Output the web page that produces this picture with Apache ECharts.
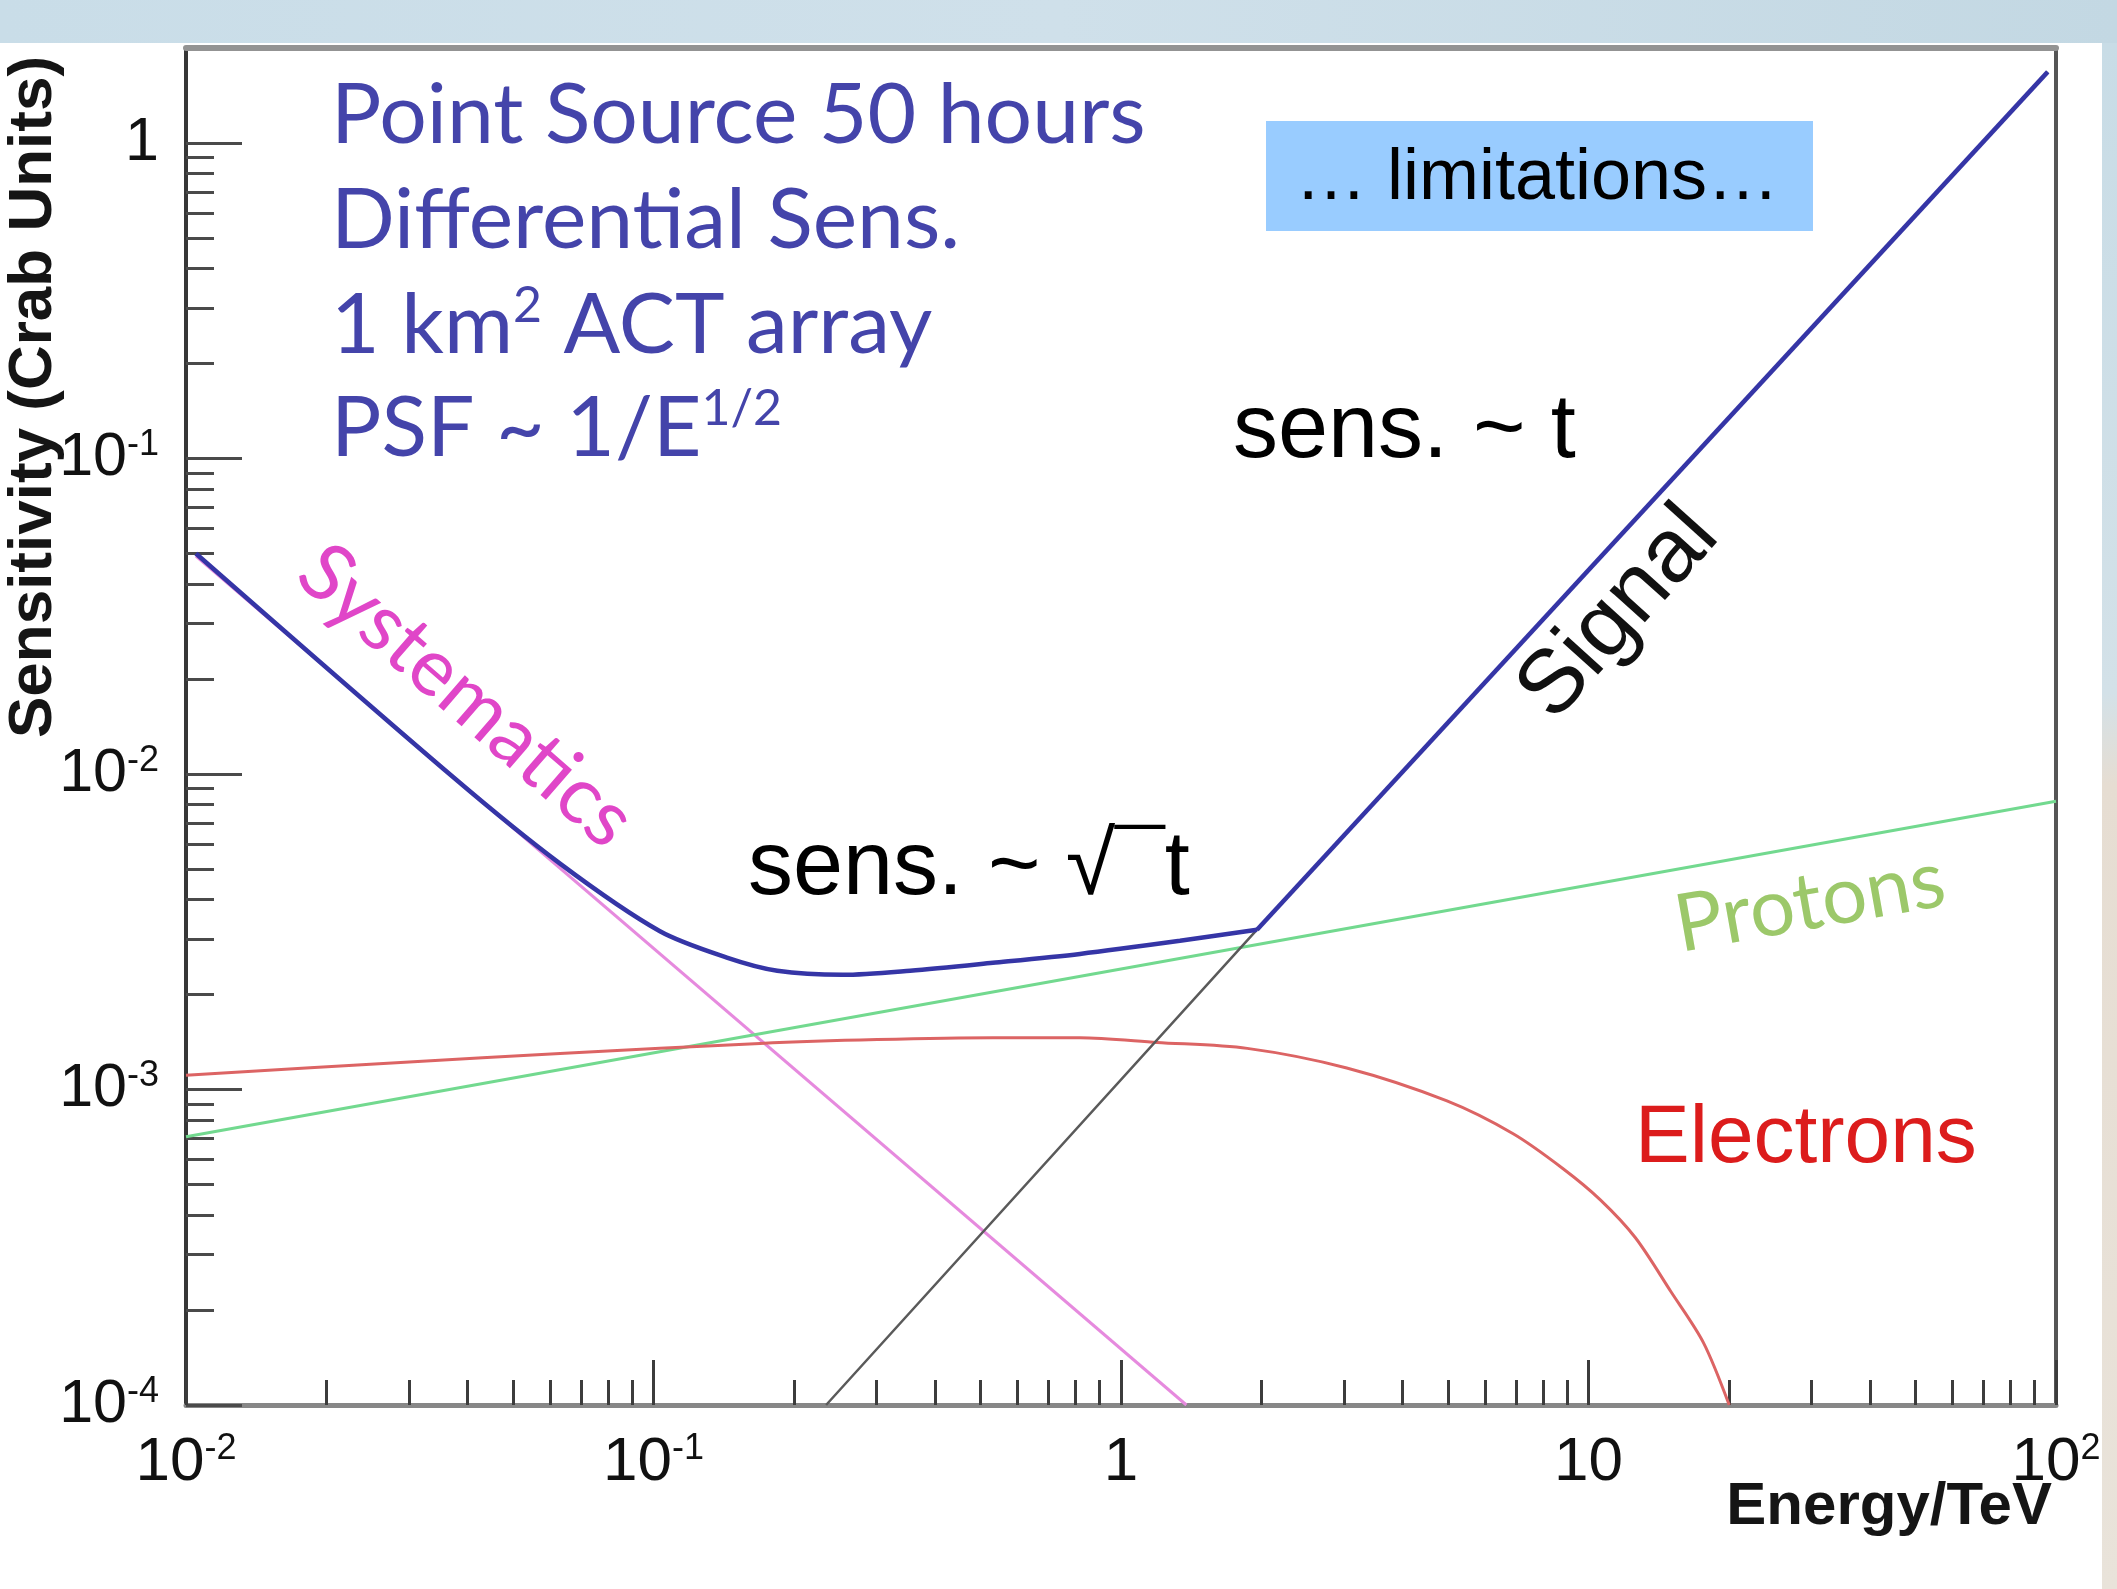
<!DOCTYPE html>
<html>
<head>
<meta charset="utf-8">
<title>Differential sensitivity of a 1 km² ACT array</title>
<script src="https://cdn.jsdelivr.net/npm/echarts@6/dist/echarts.min.js"></script>
<style>
  html, body { margin: 0; padding: 0; background: #ffffff; }
  #chart { width: 2117px; height: 1589px; }
</style>
</head>
<body>
<div id="chart"></div>
<script>
// ---- Axis ticks (energy in TeV, sensitivity in Crab units) ----
const energyMajorTicks = [0.01, 0.1, 1, 10, 100];
const energyMinorTicks = [
  0.02, 0.03, 0.04, 0.05, 0.06, 0.07, 0.08, 0.09,
  0.2, 0.3, 0.4, 0.5, 0.6, 0.7, 0.8, 0.9,
  2, 3, 4, 5, 6, 7, 8, 9,
  20, 30, 40, 50, 60, 70, 80, 90
];
const sensMajorTicks = [0.0001, 0.001, 0.01, 0.1, 1];
const sensMinorTicks = [
  0.0002, 0.0003, 0.0004, 0.0005, 0.0006, 0.0007, 0.0008, 0.0009,
  0.002, 0.003, 0.004, 0.005, 0.006, 0.007, 0.008, 0.009,
  0.02, 0.03, 0.04, 0.05, 0.06, 0.07, 0.08, 0.09,
  0.2, 0.3, 0.4, 0.5, 0.6, 0.7, 0.8, 0.9
];

// ---- Curves ----
// Total differential sensitivity, background/systematics-limited part
const totalEnergy = [0.0105, 0.0372, 0.0631, 0.103, 0.1435, 0.184, 0.254, 0.354, 0.532, 0.817, 1.337, 1.954];
const totalSens   = [0.050, 0.0098, 0.0052, 0.00318, 0.00262, 0.00238, 0.00231, 0.00238, 0.00252, 0.00269, 0.00296, 0.00321];
// Total sensitivity, signal-limited part
const totalHighEnergy = [1.954, 96];
const totalHighSens   = [0.00321, 1.68];

// Signal-limited sensitivity
const signalEnergy = [0.234, 1.954, 96];
const signalSens   = [0.0001, 0.00321, 1.68];

// Systematics
const systEnergy = [0.0105, 1.38];
const systSens   = [0.049, 0.0001];

// Proton background
const protonEnergy = [0.01, 100];
const protonSens   = [0.000708, 0.0082];

// Electron background
const electronEnergy = [0.01, 0.0294, 0.0631, 0.169, 0.301, 0.532, 0.817, 1.194, 1.862, 3.04, 4.98, 6.90, 8.81, 10.6, 12.6, 15.0, 17.6, 20.0];
const electronSens   = [0.00111, 0.00122, 0.00130, 0.00140, 0.00144, 0.00146, 0.00146, 0.00141, 0.00135, 0.00117, 0.00092, 0.000724, 0.000562, 0.000447, 0.000339, 0.000229, 0.000158, 0.0001];

const pair = (xs, ys) => xs.map((x, i) => [x, ys[i]]);

function powerLabel(v) {
  const p = Math.round(Math.log10(v));
  if (p === 0) return '{b|1}';
  if (p === 1) return '{b|10}';
  return '{b|10}{s|' + p + '}';
}

const NARROW = "'Liberation Sans Narrow', 'Arial Narrow', 'Liberation Sans', Arial, sans-serif";
const SANS = "'Liberation Sans', Arial, Helvetica, sans-serif";
const NOTE = "Lato, 'Noto Sans', sans-serif";

const xRich = {
  b: { fontFamily: NARROW, fontSize: 62, lineHeight: 64, color: '#111111' },
  s: { fontFamily: NARROW, fontSize: 36, lineHeight: 32, color: '#111111', verticalAlign: 'top' }
};
const yRich = {
  b: { fontFamily: SANS, fontSize: 61, lineHeight: 62, color: '#111111' },
  s: { fontFamily: SANS, fontSize: 36, lineHeight: 32, color: '#111111', verticalAlign: 'top' }
};

const hidden = { show: false };

function lineSeries(name, data, color, width, smooth, z) {
  return {
    name, type: 'line', data, xAxisIndex: 0, yAxisIndex: 0,
    symbol: 'none', smooth, z, clip: true, animation: false,
    lineStyle: { color, width }
  };
}

const chart = echarts.init(document.getElementById('chart'), null, { renderer: 'canvas' });

chart.setOption({
  animation: false,
  backgroundColor: '#ffffff',
  grid: { left: 186, right: 61, top: 48, bottom: 184, show: false },
  xAxis: [
    {
      type: 'log', logBase: 10, min: 0.01, max: 100, position: 'bottom',
      axisLine: { show: true, onZero: false, lineStyle: { color: '#878787', width: 5 } },
      axisTick: { show: true, inside: true, length: 45, customValues: energyMajorTicks,
                  lineStyle: { color: '#3c3c3c', width: 3 } },
      axisLabel: { show: true, customValues: energyMajorTicks, margin: 26,
                   formatter: powerLabel, rich: xRich },
      splitLine: hidden, minorTick: hidden, minorSplitLine: hidden
    },
    {
      type: 'log', logBase: 10, min: 0.01, max: 100, position: 'bottom',
      axisLine: hidden,
      axisTick: { show: true, inside: true, length: 25, customValues: energyMinorTicks,
                  lineStyle: { color: '#3c3c3c', width: 3 } },
      axisLabel: hidden, splitLine: hidden
    },
    {
      type: 'log', logBase: 10, min: 0.01, max: 100, position: 'top',
      axisLine: { show: true, onZero: false, lineStyle: { color: '#939393', width: 6 } },
      axisTick: hidden, axisLabel: hidden, splitLine: hidden
    }
  ],
  yAxis: [
    {
      type: 'log', logBase: 10, min: 0.0001, max: 2, position: 'left',
      axisLine: { show: true, onZero: false, lineStyle: { color: '#363636', width: 4 } },
      axisTick: { show: true, inside: true, length: 56, customValues: sensMajorTicks,
                  lineStyle: { color: '#4a4a4a', width: 3 } },
      axisLabel: { show: true, customValues: sensMajorTicks, margin: 27,
                   formatter: powerLabel, rich: yRich },
      splitLine: hidden, minorTick: hidden, minorSplitLine: hidden
    },
    {
      type: 'log', logBase: 10, min: 0.0001, max: 2, position: 'left',
      axisLine: hidden,
      axisTick: { show: true, inside: true, length: 28, customValues: sensMinorTicks,
                  lineStyle: { color: '#4a4a4a', width: 3 } },
      axisLabel: hidden, splitLine: hidden
    },
    {
      type: 'log', logBase: 10, min: 0.0001, max: 2, position: 'right',
      axisLine: { show: true, onZero: false, lineStyle: { color: '#555555', width: 4 } },
      axisTick: hidden, axisLabel: hidden, splitLine: hidden
    }
  ],
  series: [
    lineSeries('Systematics', pair(systEnergy, systSens), '#e68ade', 3, false, 2),
    lineSeries('Protons', pair(protonEnergy, protonSens), '#72d98f', 3, false, 3),
    lineSeries('Electrons', pair(electronEnergy, electronSens), '#dc6464', 3, 0.3, 4),
    lineSeries('Signal', pair(signalEnergy, signalSens), '#5a5a5a', 2.5, false, 5),
    lineSeries('Total', pair(totalEnergy, totalSens), '#3535a6', 4.5, 0.3, 6),
    lineSeries('Total (signal limited)', pair(totalHighEnergy, totalHighSens), '#3535a6', 4.5, false, 6)
  ],
  graphic: [
    // slide backdrop strips
    { type: 'rect', z: -5, silent: true, shape: { x: 0, y: 0, width: 2117, height: 43 },
      style: { fill: new echarts.graphic.LinearGradient(0, 0, 1, 0, [
        { offset: 0, color: '#c9dde8' }, { offset: 0.5, color: '#cfe0ea' }, { offset: 1, color: '#c3d8e3' }]) } },
    { type: 'rect', z: -5, silent: true, shape: { x: 2102, y: 43, width: 15, height: 1546 },
      style: { fill: new echarts.graphic.LinearGradient(0, 0, 0, 1, [
        { offset: 0, color: '#c8dce6' }, { offset: 0.42, color: '#d3e1e8' },
        { offset: 0.48, color: '#e6ddd2' }, { offset: 1, color: '#e9e3da' }]) } },

    // axis titles
    { type: 'text', z: 10, x: 34, y: 397, rotation: Math.PI / 2,
      style: { text: 'Sensitivity (Crab Units)', font: 'bold 62px ' + SANS, fill: '#151515',
               align: 'center', verticalAlign: 'middle' } },
    { type: 'text', z: 10, x: 2052, y: 1507,
      style: { text: 'Energy/TeV', font: 'bold 60px ' + SANS, fill: '#151515',
               align: 'right', verticalAlign: 'middle' } },

    // description block
    { type: 'text', z: 10, x: 331, y: 116,
      style: { text: 'Point Source 50 hours', font: '84px ' + NOTE, fill: '#4444aa',
               align: 'left', verticalAlign: 'middle' } },
    { type: 'text', z: 10, x: 331, y: 221,
      style: { text: 'Differential Sens.', font: '84px ' + NOTE, fill: '#4444aa',
               align: 'left', verticalAlign: 'middle' } },
    { type: 'text', z: 10, x: 331, y: 326,
      style: { text: '1 km{s|2} ACT array', font: '84px ' + NOTE, fill: '#4444aa', lineHeight: 90,
               align: 'left', verticalAlign: 'middle',
               rich: { s: { font: '50px ' + NOTE, fill: '#4444aa', lineHeight: 50, verticalAlign: 'top' } } } },
    { type: 'text', z: 10, x: 331, y: 429,
      style: { text: 'PSF ~ 1/E{s|1/2}', font: '84px ' + NOTE, fill: '#4444aa', lineHeight: 90,
               align: 'left', verticalAlign: 'middle',
               rich: { s: { font: '50px ' + NOTE, fill: '#4444aa', lineHeight: 50, verticalAlign: 'top' } } } },

    // highlighted caption
    { type: 'rect', z: 9, silent: true, shape: { x: 1266, y: 121, width: 547, height: 110 },
      style: { fill: '#99ccff' } },
    { type: 'text', z: 10, x: 1537, y: 179,
      style: { text: '… limitations…', font: '72px ' + SANS, fill: '#000000',
               align: 'center', verticalAlign: 'middle' } },

    // regime annotations
    { type: 'text', z: 10, x: 1233, y: 432,
      style: { text: 'sens. ~ t', font: '90px ' + SANS, fill: '#000000',
               align: 'left', verticalAlign: 'middle' } },
    { type: 'text', z: 10, x: 748, y: 869,
      style: { text: 'sens. ~ √¯t', font: '90px ' + SANS, fill: '#000000',
               align: 'left', verticalAlign: 'middle' } },

    // curve labels
    { type: 'text', z: 10, x: 1619, y: 614, rotation: 48 * Math.PI / 180,
      style: { text: 'Signal', font: '90px ' + SANS, fill: '#111111',
               align: 'center', verticalAlign: 'middle' } },
    { type: 'text', z: 10, x: 466, y: 696, rotation: -41 * Math.PI / 180,
      style: { text: 'Systematics', font: '80px ' + NOTE, fill: '#e046c8',
               align: 'center', verticalAlign: 'middle' } },
    { type: 'text', z: 10, x: 1810, y: 903, rotation: 10 * Math.PI / 180,
      style: { text: 'Protons', font: '80px ' + NOTE, fill: '#9cc86a',
               align: 'center', verticalAlign: 'middle' } },
    { type: 'text', z: 10, x: 1635, y: 1139,
      style: { text: 'Electrons', font: '82px ' + SANS, fill: '#dc1c1c',
               align: 'left', verticalAlign: 'middle' } }
  ]
});
</script>
</body>
</html>
